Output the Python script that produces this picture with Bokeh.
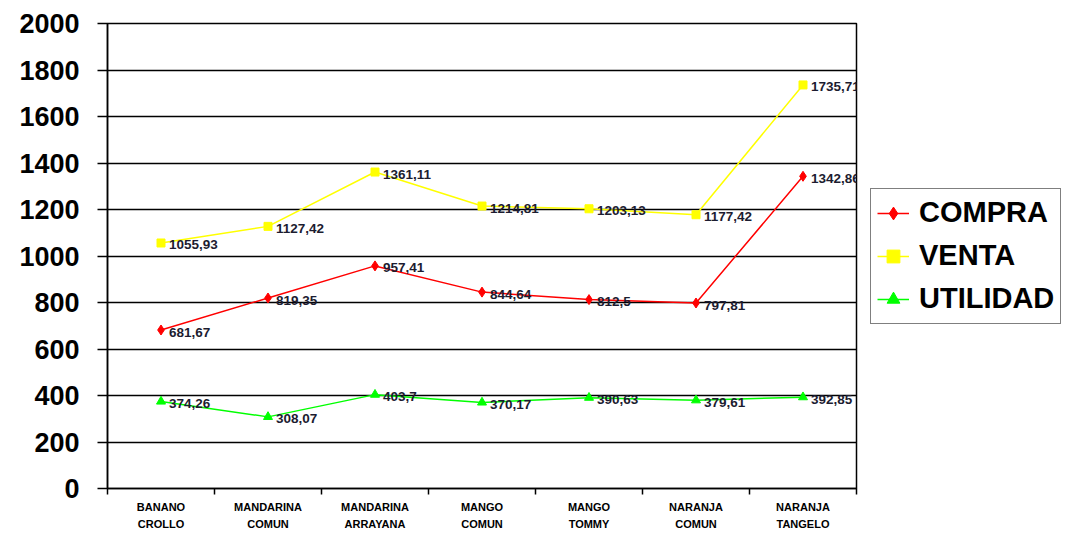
from bokeh.plotting import figure
from bokeh.models import (Range1d, FixedTicker, Legend, LegendItem, ColumnDataSource)
from bokeh.core.properties import value
from bokeh.embed import file_html
from bokeh.resources import INLINE

categories = ["BANANO\nCROLLO", "MANDARINA\nCOMUN", "MANDARINA\nARRAYANA", "MANGO\nCOMUN",
              "MANGO\nTOMMY", "NARANJA\nCOMUN", "NARANJA\nTANGELO"]
compra = [681.67, 819.35, 957.41, 844.64, 812.5, 797.81, 1342.86]
venta = [1055.93, 1127.42, 1361.11, 1214.81, 1203.13, 1177.42, 1735.71]
utilidad = [374.26, 308.07, 403.7, 370.17, 390.63, 379.61, 392.85]
y_ticks = [0, 200, 400, 600, 800, 1000, 1200, 1400, 1600, 1800, 2000]

FONT = "Liberation Sans"
xs = list(range(1, len(categories) + 1))

p = figure(frame_width=749, frame_height=465, output_backend="svg", toolbar_location=None,
           x_range=Range1d(0.5, len(categories) + 0.5), y_range=Range1d(0, 2000),
           min_border_left=107, min_border_top=23, min_border_right=5, min_border_bottom=40)
p.background_fill_color = "white"
p.border_fill_color = "white"
p.outline_line_color = "black"
p.outline_line_width = 1.5

p.xgrid.visible = False
p.ygrid.ticker = FixedTicker(ticks=y_ticks)
p.ygrid.grid_line_color = "black"
p.ygrid.grid_line_width = 1.5

# y axis
p.yaxis.ticker = FixedTicker(ticks=y_ticks)
p.yaxis.axis_line_color = "black"
p.yaxis.axis_line_width = 1.5
p.yaxis.major_tick_out = 10
p.yaxis.major_tick_in = 0
p.yaxis.major_tick_line_color = "black"
p.yaxis.major_tick_line_width = 1.5
p.yaxis.minor_tick_line_color = None
p.yaxis.major_label_standoff = 18
p.yaxis.major_label_text_font = FONT
p.yaxis.major_label_text_font_style = "bold"
p.yaxis.major_label_text_font_size = "27px"
p.yaxis.major_label_text_color = "black"

# x axis
p.xaxis.ticker = FixedTicker(ticks=xs, minor_ticks=[i + 0.5 for i in range(0, len(categories) + 1)])
p.xaxis.major_label_overrides = {x: c for x, c in zip(xs, categories)}
p.xaxis.axis_line_color = "black"
p.xaxis.axis_line_width = 1.5
p.xaxis.major_tick_line_color = None
p.xaxis.minor_tick_out = 6
p.xaxis.minor_tick_in = 0
p.xaxis.minor_tick_line_color = "black"
p.xaxis.minor_tick_line_width = 1.5
p.xaxis.major_label_standoff = 6
p.xaxis.major_label_text_font = FONT
p.xaxis.major_label_text_font_style = "bold"
p.xaxis.major_label_text_font_size = "11px"
p.xaxis.major_label_text_line_height = 1.45
p.xaxis.major_label_text_color = "black"

series = [
    ("COMPRA", compra, "#ff0000", "diamond", 10),
    ("VENTA", venta, "#ffff00", "square", 8),
    ("UTILIDAD", utilidad, "#00ff00", "triangle", 9),
]

items = []
for name, vals, color, marker, size in series:
    src = ColumnDataSource(dict(x=xs, y=vals, lab=[f"{v:g}".replace(".", ",") for v in vals]))
    ln = p.line("x", "y", source=src, line_color=color, line_width=1.5)
    sc = p.scatter("x", "y", source=src, marker=marker, size=size,
                   fill_color=color, line_color=color)
    p.text("x", "y", text="lab", source=src, x_offset=8, y_offset=2,
           text_font=value(FONT), text_font_style="bold", text_font_size="13.5px",
           text_color="#1c1c30", text_baseline="middle", text_align="left")
    items.append(LegendItem(label=name, renderers=[ln, sc]))

legend = Legend(items=items, location="center_left")
legend.border_line_color = "black"
legend.border_line_width = 1.5
legend.background_fill_color = "white"
legend.background_fill_alpha = 1
legend.label_text_font = FONT
legend.label_text_font_style = "bold"
legend.label_text_font_size = "29px"
legend.label_text_color = "black"
legend.glyph_width = 32
legend.glyph_height = 36
legend.label_height = 36
legend.label_standoff = 10
legend.padding = 6
legend.spacing = 7
legend.margin = 14
p.add_layout(legend, "right")

open("out.html", "w").write(file_html(p, INLINE))
